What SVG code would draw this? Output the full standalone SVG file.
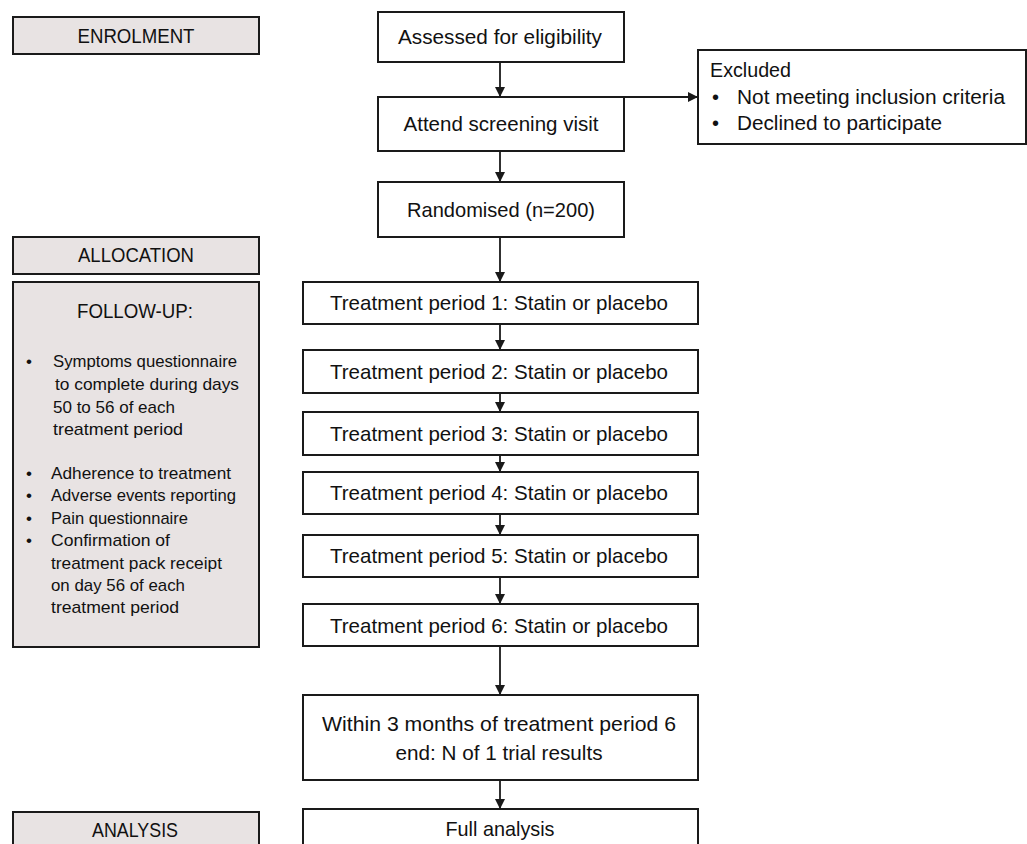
<svg xmlns="http://www.w3.org/2000/svg" width="1027" height="844" viewBox="0 0 1027 844">
<style>
.box{fill:#ffffff;stroke:#1a1a1a;stroke-width:2}
.side{fill:#e8e3e3;stroke:#1a1a1a;stroke-width:2}
.t{font-family:"Liberation Sans",Arial,sans-serif;font-size:21px;fill:#111}
.c{text-anchor:middle}
.s{font-family:"Liberation Sans",Arial,sans-serif;font-size:17px;fill:#111}
.e{font-family:"Liberation Sans",Arial,sans-serif;font-size:20px;fill:#111}
.conn{stroke:#1a1a1a;stroke-width:1.8;fill:none;marker-end:url(#ah)}
</style>
<defs>
<marker id="ah" markerUnits="userSpaceOnUse" markerWidth="12" markerHeight="12" refX="10" refY="5" orient="auto">
<path d="M0,0 L10,5 L0,10 Z" fill="#1a1a1a"/>
</marker>
</defs>
<rect width="1027" height="844" fill="#ffffff"/>
<g id="connectors">
<path class="conn" d="M500,62 V97"/>
<path class="conn" d="M624,97 H698"/>
<path class="conn" d="M500,151 V182"/>
<path class="conn" d="M500,237 V282"/>
<path class="conn" d="M500,324 V350"/>
<path class="conn" d="M500,393 V412"/>
<path class="conn" d="M500,455 V472"/>
<path class="conn" d="M500,514 V535"/>
<path class="conn" d="M500,577 V604"/>
<path class="conn" d="M500,646 V695"/>
<path class="conn" d="M500,780 V809"/>
</g>
<g id="enrolment"><rect class="side" x="13" y="17" width="246" height="37"/><text class="t c" x="136" y="43" textLength="117" lengthAdjust="spacingAndGlyphs">ENROLMENT</text></g>
<g id="allocation"><rect class="side" x="13" y="237" width="246" height="37"/><text class="t c" x="136" y="262" textLength="116" lengthAdjust="spacingAndGlyphs">ALLOCATION</text></g>
<g id="followup"><rect class="side" x="13" y="282" width="246" height="365"/>
<text class="t c" x="135" y="318" textLength="116" lengthAdjust="spacingAndGlyphs">FOLLOW-UP:</text>
<g class="s">
<text x="26" y="367">•</text><text x="53" y="367" textLength="184" lengthAdjust="spacingAndGlyphs">Symptoms questionnaire</text>
<text x="55" y="390" textLength="184" lengthAdjust="spacingAndGlyphs">to complete during  days</text>
<text x="53" y="413" textLength="122" lengthAdjust="spacingAndGlyphs">50 to 56 of each</text>
<text x="53" y="435" textLength="130" lengthAdjust="spacingAndGlyphs">treatment  period</text>
<text x="26" y="479">•</text><text x="51" y="479" textLength="180" lengthAdjust="spacingAndGlyphs">Adherence  to treatment</text>
<text x="26" y="501">•</text><text x="51" y="501" textLength="185" lengthAdjust="spacingAndGlyphs">Adverse events reporting</text>
<text x="26" y="524">•</text><text x="51" y="524" textLength="137" lengthAdjust="spacingAndGlyphs">Pain questionnaire</text>
<text x="26" y="546">•</text><text x="51" y="546" textLength="119" lengthAdjust="spacingAndGlyphs">Confirmation  of</text>
<text x="51" y="569" textLength="171" lengthAdjust="spacingAndGlyphs">treatment  pack receipt</text>
<text x="51" y="591" textLength="134" lengthAdjust="spacingAndGlyphs">on day 56 of each</text>
<text x="51" y="613" textLength="128" lengthAdjust="spacingAndGlyphs">treatment  period</text>
</g>
</g>
<g id="analysis"><rect class="side" x="13" y="812" width="246" height="40"/><text class="t c" x="135" y="837" textLength="86" lengthAdjust="spacingAndGlyphs">ANALYSIS</text></g>
<g id="assessed"><rect class="box" x="378" y="12" width="246" height="50"/><text class="t c" x="500" y="44" textLength="204" lengthAdjust="spacingAndGlyphs">Assessed for eligibility</text></g>
<g id="screening"><rect class="box" x="378" y="97" width="246" height="54"/><text class="t c" x="501" y="131" textLength="195" lengthAdjust="spacingAndGlyphs">Attend screening visit</text></g>
<g id="randomised"><rect class="box" x="378" y="182" width="246" height="55"/><text class="t c" x="501" y="217" textLength="188" lengthAdjust="spacingAndGlyphs">Randomised (n=200)</text></g>
<g id="excluded"><rect class="box" x="698" y="50" width="328" height="94"/>
<text class="e" x="710" y="77" textLength="81" lengthAdjust="spacingAndGlyphs">Excluded</text>
<text class="e" x="712" y="104">•</text><text class="e" x="737" y="104" textLength="268" lengthAdjust="spacingAndGlyphs">Not meeting inclusion criteria</text>
<text class="e" x="712" y="130">•</text><text class="e" x="737" y="130" textLength="205" lengthAdjust="spacingAndGlyphs">Declined to participate</text>
</g>
<g id="tp1"><rect class="box" x="303" y="282" width="395" height="42"/><text class="t c" x="499" y="310" textLength="338" lengthAdjust="spacingAndGlyphs">Treatment period  1: Statin or placebo</text></g>
<g id="tp2"><rect class="box" x="303" y="350" width="395" height="43"/><text class="t c" x="499" y="379" textLength="338" lengthAdjust="spacingAndGlyphs">Treatment period  2: Statin or placebo</text></g>
<g id="tp3"><rect class="box" x="303" y="412" width="395" height="43"/><text class="t c" x="499" y="441" textLength="338" lengthAdjust="spacingAndGlyphs">Treatment period  3: Statin or placebo</text></g>
<g id="tp4"><rect class="box" x="303" y="472" width="395" height="42"/><text class="t c" x="499" y="500" textLength="338" lengthAdjust="spacingAndGlyphs">Treatment period  4: Statin or placebo</text></g>
<g id="tp5"><rect class="box" x="303" y="535" width="395" height="42"/><text class="t c" x="499" y="563" textLength="338" lengthAdjust="spacingAndGlyphs">Treatment period  5: Statin or placebo</text></g>
<g id="tp6"><rect class="box" x="303" y="604" width="395" height="42"/><text class="t c" x="499" y="633" textLength="338" lengthAdjust="spacingAndGlyphs">Treatment period  6: Statin or placebo</text></g>
<g id="within"><rect class="box" x="303" y="695" width="395" height="85"/>
<text class="t c" x="499" y="731" textLength="354" lengthAdjust="spacingAndGlyphs">Within 3 months of treatment period  6</text>
<text class="t c" x="499" y="760" textLength="207" lengthAdjust="spacingAndGlyphs">end:  N of 1 trial results</text>
</g>
<g id="full"><rect class="box" x="303" y="809" width="395" height="45"/><text class="t c" x="500" y="836" textLength="109" lengthAdjust="spacingAndGlyphs">Full analysis</text></g>
</svg>
